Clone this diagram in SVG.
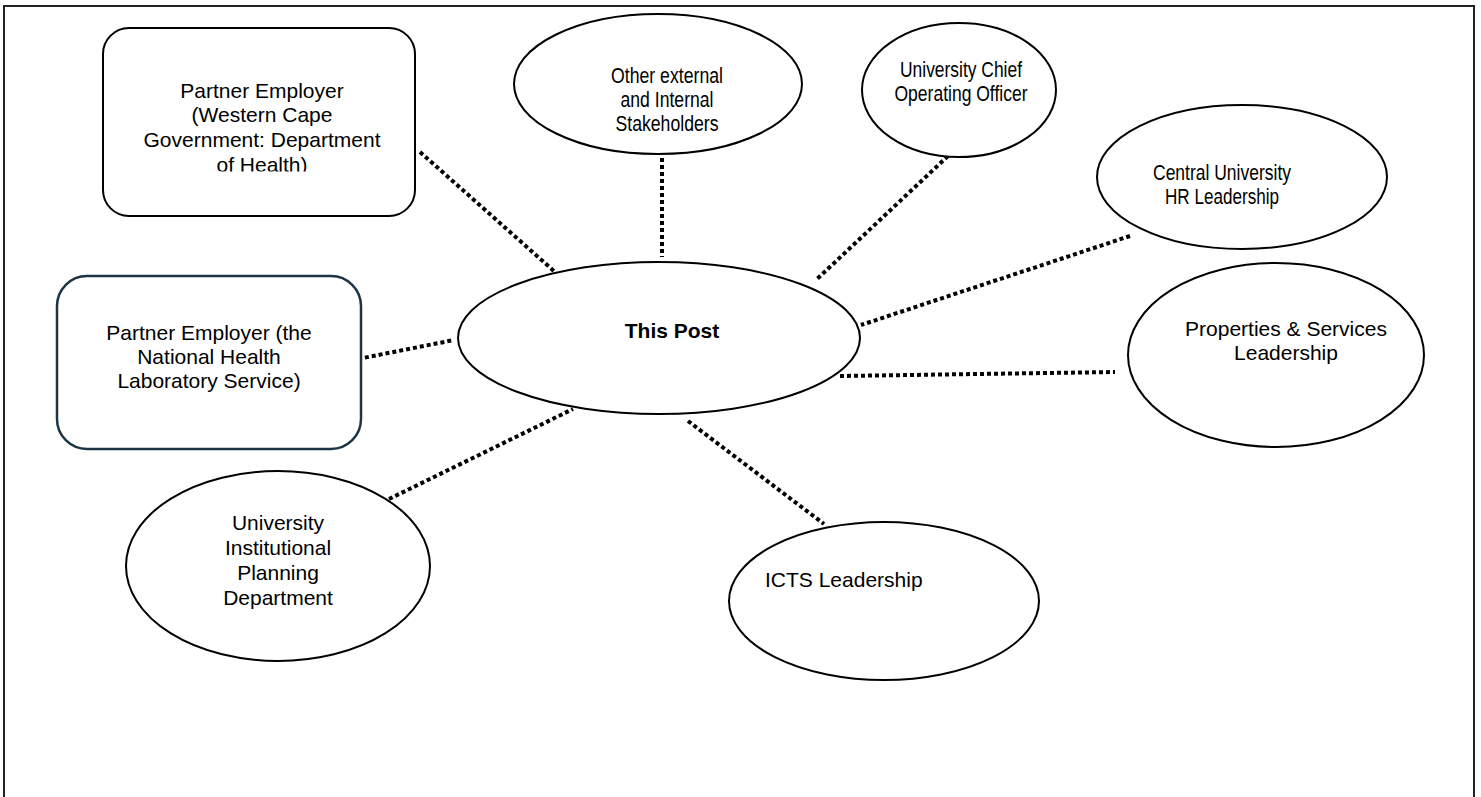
<svg xmlns="http://www.w3.org/2000/svg" width="1481" height="797" viewBox="0 0 1481 797">
<defs>
<style>
.t{font-family:"Liberation Sans",Arial,sans-serif;font-size:21px;fill:#000;text-anchor:middle}
.nw{font-size:22.5px}
.n{fill:#fff;stroke:#000;stroke-width:2}
.c{stroke:#000;stroke-width:4;stroke-dasharray:4 3;fill:none}
</style>
<clipPath id="clip1"><rect x="103" y="28" width="312" height="143.5"/></clipPath>
</defs>
<rect x="0" y="0" width="1481" height="797" fill="#fff"/>
<rect x="4" y="6" width="1470" height="820" fill="none" stroke="#222" stroke-width="2"/>
<g id="connectors">
<line class="c" x1="420" y1="152" x2="555" y2="272"/>
<line class="c" x1="662" y1="158" x2="662" y2="257"/>
<line class="c" x1="948" y1="156" x2="816" y2="280"/>
<line class="c" x1="1130" y1="236" x2="861" y2="325"/>
<line class="c" x1="840" y1="376" x2="1115" y2="372"/>
<line class="c" x1="688" y1="421" x2="824" y2="524"/>
<line class="c" x1="389" y1="499" x2="573" y2="409"/>
<line class="c" x1="358" y1="359" x2="454" y2="340"/>
</g>
<g id="wcg">
<rect class="n" x="103" y="28" width="312" height="188" rx="26"/>
<text class="t" clip-path="url(#clip1)"><tspan x="262" y="98">Partner Employer</tspan><tspan x="262" y="122">(Western Cape</tspan><tspan x="262" y="147">Government: Department</tspan><tspan x="262" y="172">of Health)</tspan></text>
</g>
<g id="nhls">
<rect x="57" y="276" width="304" height="173" rx="30" fill="#fff" stroke="#1c3546" stroke-width="2.5"/>
<text class="t"><tspan x="209" y="340">Partner Employer (the</tspan><tspan x="209" y="364">National Health</tspan><tspan x="209" y="388">Laboratory Service)</tspan></text>
</g>
<g id="other">
<ellipse class="n" cx="658" cy="84" rx="144" ry="70"/>
<text class="t nw" x="667" y="83" textLength="112" lengthAdjust="spacingAndGlyphs">Other external</text>
<text class="t nw" x="667" y="107" textLength="93" lengthAdjust="spacingAndGlyphs">and Internal</text>
<text class="t nw" x="667" y="131" textLength="103" lengthAdjust="spacingAndGlyphs">Stakeholders</text>
</g>
<g id="coo">
<ellipse class="n" cx="959" cy="90" rx="97" ry="67"/>
<text class="t nw" x="961" y="77" textLength="122" lengthAdjust="spacingAndGlyphs">University Chief</text>
<text class="t nw" x="961" y="101" textLength="133" lengthAdjust="spacingAndGlyphs">Operating Officer</text>
</g>
<g id="hr">
<ellipse class="n" cx="1242" cy="177" rx="145" ry="72"/>
<text class="t nw" x="1222" y="180" textLength="138" lengthAdjust="spacingAndGlyphs">Central University</text>
<text class="t nw" x="1222" y="204" textLength="114" lengthAdjust="spacingAndGlyphs">HR Leadership</text>
</g>
<g id="ps">
<ellipse class="n" cx="1276" cy="355" rx="148" ry="92"/>
<text class="t"><tspan x="1286" y="336">Properties &amp; Services</tspan><tspan x="1286" y="360">Leadership</tspan></text>
</g>
<g id="icts">
<ellipse class="n" cx="884" cy="601" rx="155" ry="79"/>
<text class="t" style="text-anchor:start" x="765" y="587">ICTS Leadership</text>
</g>
<g id="planning">
<ellipse class="n" cx="278" cy="566" rx="152" ry="95"/>
<text class="t"><tspan x="278" y="530">University</tspan><tspan x="278" y="555">Institutional</tspan><tspan x="278" y="580">Planning</tspan><tspan x="278" y="605">Department</tspan></text>
</g>
<g id="post">
<ellipse class="n" cx="659" cy="338" rx="201" ry="76"/>
<text class="t" style="font-weight:bold" x="672" y="338">This Post</text>
</g>
</svg>
